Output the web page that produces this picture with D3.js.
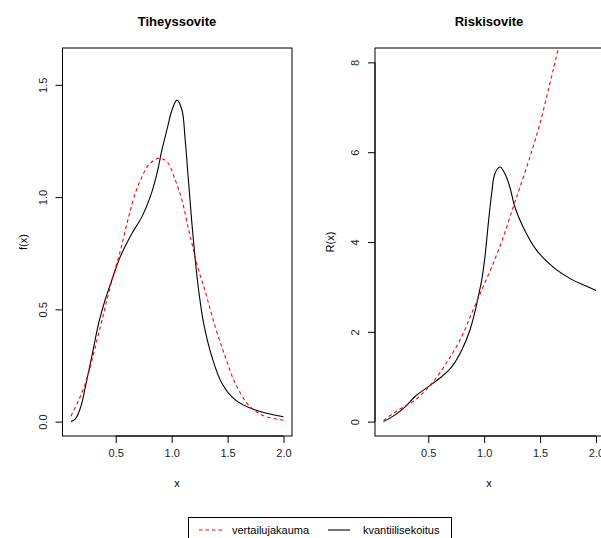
<!DOCTYPE html>
<meta charset="utf-8">
<script src="https://d3js.org/d3.v7.min.js"></script>
<style>
  body { margin: 0; background: #fff; }
  text { font-family: "Liberation Sans", Arial, Helvetica, sans-serif; }
</style>
<div id="chart"></div>
<script>
// --- data ---
// density panel (Tiheyssovite)
const densRefX = [0.10, 0.17, 0.229, 0.288, 0.348, 0.407, 0.467, 0.527, 0.556, 0.616, 0.675, 0.735, 0.795, 0.884, 0.958, 1.032, 1.092, 1.152, 1.196, 1.241, 1.30, 1.389, 1.479, 1.568, 1.688, 1.806, 1.97, 2.0];
const densRefY = [0.025, 0.097, 0.171, 0.275, 0.394, 0.512, 0.631, 0.735, 0.79, 0.913, 1.017, 1.091, 1.143, 1.173, 1.158, 1.076, 0.987, 0.854, 0.764, 0.675, 0.58, 0.423, 0.289, 0.171, 0.074, 0.03, 0.008, 0.006];
const densMixX = [0.10, 0.14, 0.19, 0.229, 0.288, 0.348, 0.407, 0.467, 0.541, 0.646, 0.735, 0.809, 0.869, 0.913, 0.958, 1.003, 1.047, 1.092, 1.121, 1.152, 1.181, 1.211, 1.241, 1.286, 1.36, 1.449, 1.568, 1.747, 2.0];
const densMixY = [0.0, 0.012, 0.07, 0.156, 0.295, 0.44, 0.545, 0.633, 0.735, 0.839, 0.913, 1.002, 1.106, 1.21, 1.30, 1.388, 1.432, 1.388, 1.254, 1.061, 0.883, 0.72, 0.586, 0.438, 0.289, 0.171, 0.097, 0.052, 0.022];

// hazard panel (Riskisovite)
const hazRefX = [0.10, 0.233, 0.382, 0.531, 0.679, 0.799, 0.888, 0.978, 1.081, 1.171, 1.26, 1.32, 1.409, 1.498, 1.587, 1.662, 1.80, 2.0];
const hazRefY = [0.03, 0.26, 0.48, 0.85, 1.37, 1.89, 2.41, 2.93, 3.52, 4.11, 4.78, 5.22, 5.89, 6.63, 7.52, 8.3, 9.8, 12.2];
const hazMixX = [0.10, 0.204, 0.293, 0.382, 0.501, 0.62, 0.71, 0.799, 0.873, 0.918, 0.947, 0.978, 1.007, 1.037, 1.067, 1.096, 1.141, 1.186, 1.23, 1.275, 1.349, 1.468, 1.617, 1.766, 1.89, 2.0];
const hazMixY = [0.0, 0.15, 0.33, 0.56, 0.78, 1.0, 1.22, 1.59, 2.04, 2.45, 2.78, 3.15, 3.67, 4.41, 5.08, 5.52, 5.67, 5.52, 5.22, 4.78, 4.33, 3.82, 3.44, 3.19, 3.04, 2.92];

const xTicks = [0.5, 1.0, 1.5, 2.0];
const densTicks = [0.0, 0.5, 1.0, 1.5];
const hazTicks = [0, 2, 4, 6, 8];
const legendLabels = ["vertailujakauma", "kvantiilisekoitus"];

const W = 601, H = 538;
const svg = d3.select("#chart").append("svg")
  .attr("width", W).attr("height", H);

let clipN = 0;

function panel(opts) {
  const { left, right, top, bottom, yDomain, yTicks, yFmt, title, ylab, series } = opts;
  // R style: data range 0.1..2.0 padded by 4% each side
  const x = d3.scaleLinear().domain([0.1 - 0.076, 2.0 + 0.076]).range([left, right]);
  const y = d3.scaleLinear().domain(yDomain).range([bottom, top]);
  const g = svg.append("g");

  const id = "clip" + (clipN++);
  g.append("clipPath").attr("id", id)
    .append("rect").attr("x", left).attr("y", top)
    .attr("width", right - left).attr("height", bottom - top);

  const line = d3.line().x(d => x(d[0])).y(d => y(d[1])).curve(d3.curveCatmullRom.alpha(0.5));
  series.forEach(s => {
    g.append("path")
      .datum(d3.zip(s.xs, s.ys))
      .attr("clip-path", `url(#${id})`)
      .attr("d", line)
      .attr("fill", "none")
      .attr("stroke", s.color)
      .attr("stroke-width", 1.1)
      .attr("stroke-dasharray", s.dash || null);
  });

  // box
  g.append("rect")
    .attr("x", left).attr("y", top)
    .attr("width", right - left).attr("height", bottom - top)
    .attr("fill", "none").attr("stroke", "#000").attr("stroke-width", 1);

  // x axis
  const xa = g.append("g").attr("transform", `translate(0,${bottom})`)
    .call(d3.axisBottom(x).tickValues(xTicks).tickFormat(d3.format(".1f")).tickSize(7).tickPadding(6));
  xa.select(".domain").attr("d", `M${x(xTicks[0])},0H${x(xTicks[xTicks.length - 1])}`);
  xa.selectAll("text").attr("font-size", 11).attr("fill", "#222")
    .style("font-family", '"Liberation Sans", Arial, sans-serif');

  // y axis, labels turned like R's las=0
  const ya = g.append("g").attr("transform", `translate(${left},0)`)
    .call(d3.axisLeft(y).tickValues(yTicks).tickFormat(yFmt).tickSize(7).tickPadding(0));
  ya.select(".domain").attr("d", `M0,${y(yTicks[0])}V${y(yTicks[yTicks.length - 1])}`);
  ya.selectAll(".tick text")
    .attr("x", 0).attr("dy", null)
    .attr("text-anchor", "middle")
    .attr("dominant-baseline", "central")
    .attr("transform", "translate(-20,0) rotate(-90)")
    .attr("font-size", 11).attr("fill", "#222")
    .style("font-family", '"Liberation Sans", Arial, sans-serif');

  // titles
  g.append("text").attr("x", opts.titleX).attr("y", 26)
    .attr("text-anchor", "middle").attr("font-size", 13).attr("font-weight", "bold")
    .text(title);
  g.append("text").attr("x", opts.titleX).attr("y", 487)
    .attr("text-anchor", "middle").attr("font-size", 11).text("x");
  g.append("text")
    .attr("transform", `translate(${opts.ylabX},${(top + bottom) / 2}) rotate(-90)`)
    .attr("text-anchor", "middle").attr("font-size", 11).text(ylab);
}

panel({
  left: 62.5, right: 292, top: 48, bottom: 436,
  yDomain: [-0.064, 1.664], yTicks: densTicks, yFmt: d3.format(".1f"),
  title: "Tiheyssovite", ylab: "f(x)", titleX: 177, ylabX: 27,
  series: [
    { xs: densMixX, ys: densMixY, color: "#000" },
    { xs: densRefX, ys: densRefY, color: "#ff0000", dash: "3.5,3" }
  ]
});

panel({
  left: 375, right: 604.5, top: 48, bottom: 436,
  yDomain: [-0.32, 8.32], yTicks: hazTicks, yFmt: d3.format("d"),
  title: "Riskisovite", ylab: "R(x)", titleX: 489, ylabX: 334,
  series: [
    { xs: hazMixX, ys: hazMixY, color: "#000" },
    { xs: hazRefX, ys: hazRefY, color: "#ff0000", dash: "3.5,3" }
  ]
});

// legend
const lg = svg.append("g");
lg.append("rect").attr("x", 188.5).attr("y", 517.5).attr("width", 263).attr("height", 40)
  .attr("fill", "none").attr("stroke", "#000").attr("stroke-width", 1);
const legendItems = [
  { label: legendLabels[0], color: "#ff0000", dash: "3.5,3", x1: 199, x2: 223, tx: 232 },
  { label: legendLabels[1], color: "#000", dash: null, x1: 328, x2: 350, tx: 363 }
];
legendItems.forEach(it => {
  lg.append("line").attr("x1", it.x1).attr("x2", it.x2).attr("y1", 530).attr("y2", 530)
    .attr("stroke", it.color).attr("stroke-width", 1.1).attr("stroke-dasharray", it.dash);
  lg.append("text").attr("x", it.tx).attr("y", 534).attr("font-size", 11).text(it.label);
});
</script>
